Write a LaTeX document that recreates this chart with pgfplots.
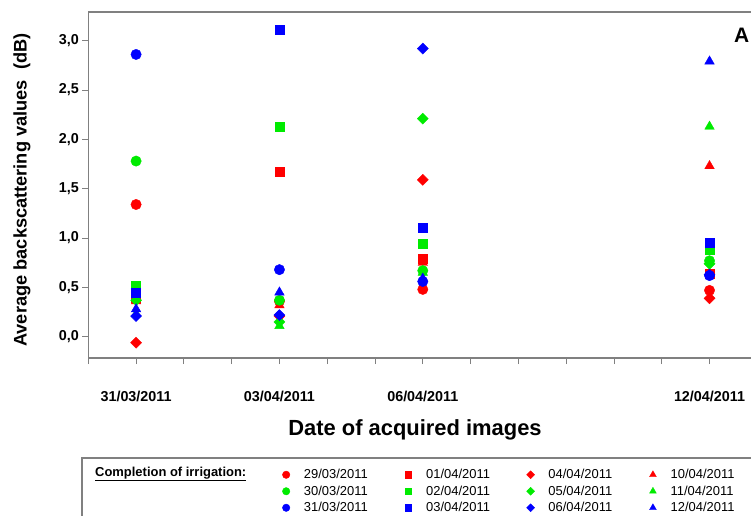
\documentclass[border=0pt]{standalone}
\usepackage{fontspec}
\setmainfont{Liberation Sans}
\usepackage{pgfplots}
\usepackage{pgfplotstable}
\pgfplotsset{compat=1.18}
\definecolor{mred}{RGB}{255,0,0}
\definecolor{mgreen}{RGB}{0,235,0}
\definecolor{mblue}{RGB}{0,0,255}
\definecolor{axgray}{RGB}{128,128,128}

% x: days after 31/03/2011 (0 = 31/03, 3 = 03/04, 6 = 06/04, 12 = 12/04)
\pgfplotstableread{
x   rc     rs    rd     rt    gc    gs    gd    gt    bc    bs    bd    bt
0   1.34   0.40  -0.06  0.36  1.78  0.52  0.37  0.23  2.86  0.45  0.21  0.28
3   0.36   1.67  0.21   0.32  0.37  2.13  0.15  0.11  0.68  3.11  0.22  0.45
6   0.48   0.79  1.59   0.75  0.67  0.94  2.21  0.65  0.56  1.10  2.92  0.59
12  0.47   0.64  0.39   1.73  0.77  0.88  0.74  2.13  0.62  0.95  0.63  2.79
}\data

\begin{document}
\begin{tikzpicture}
\useasboundingbox (0,0) rectangle (751bp,-516bp);
\begin{axis}[
  scale only axis, width=669bp, height=346bp,
  at={(88.3bp,-358bp)}, anchor=south west,
  xmin=-1, xmax=13, ymin=-0.215, ymax=3.29,
  axis y line=left, axis x line=bottom,
  axis line style={-, axgray, line width=1.1pt},
  xtick={-1,0,...,13},
  xticklabels={,31/03/2011,,,03/04/2011,,,06/04/2011,,,,,,12/04/2011,},
  ytick={0,0.5,...,3},
  tick align=outside, major tick length=6bp,
  tick style={axgray, line width=0.8pt},
  x tick label style={font=\bfseries\fontsize{14.4}{16}\selectfont, yshift=-24bp},
  y tick label style={font=\bfseries\fontsize{14.4}{16}\selectfont},
  yticklabel={\pgfmathprintnumber[fixed, fixed zerofill, precision=1, use comma, assume math mode=true]{\tick}},
  clip=false,
  legend columns=4,
  legend cell align=left,
  legend image code/.code={\draw[#1, every mark/.append style={scale=0.72}] plot coordinates {(0bp,0bp)}; \path (-5bp,0bp) (15bp,0bp);},
  legend style={draw=none, fill=none, inner sep=0pt, outer sep=0pt,
    at={(0.288,-0.3136)}, anchor=north west,
    font=\fontsize{13}{15}\selectfont,
    nodes={inner sep=2.5bp, text height=9.5bp, text depth=2bp},
    /tikz/every even column/.append style={column sep=33bp}},
  every axis plot/.append style={only marks},
  dmd/.style={mark=square*, mark size=3.9bp, mark options={rotate=45}},
]
\draw[axgray, line width=1.1pt] (rel axis cs:0,1) -- (rel axis cs:1,1);
\addplot[mark=*, mark size=5.2bp, color=mred] table[x=x, y=rc] {\data};
\addlegendentry{29/03/2011}
\addplot[mark=square*, mark size=4.5bp, color=mred] table[x=x, y=rs] {\data};
\addlegendentry{01/04/2011}
\addplot[dmd, color=mred] table[x=x, y=rd] {\data};
\addlegendentry{04/04/2011}
\addplot[mark=triangle*, mark size=5.5bp, color=mred] table[x=x, y=rt] {\data};
\addlegendentry{10/04/2011}
\addplot[mark=*, mark size=5.2bp, color=mgreen] table[x=x, y=gc] {\data};
\addlegendentry{30/03/2011}
\addplot[mark=square*, mark size=4.5bp, color=mgreen] table[x=x, y=gs] {\data};
\addlegendentry{02/04/2011}
\addplot[dmd, color=mgreen] table[x=x, y=gd] {\data};
\addlegendentry{05/04/2011}
\addplot[mark=triangle*, mark size=5.5bp, color=mgreen] table[x=x, y=gt] {\data};
\addlegendentry{11/04/2011}
\addplot[mark=*, mark size=5.2bp, color=mblue] table[x=x, y=bc] {\data};
\addlegendentry{31/03/2011}
\addplot[mark=square*, mark size=4.5bp, color=mblue] table[x=x, y=bs] {\data};
\addlegendentry{03/04/2011}
\addplot[dmd, color=mblue] table[x=x, y=bd] {\data};
\addlegendentry{06/04/2011}
\addplot[mark=triangle*, mark size=5.5bp, color=mblue] table[x=x, y=bt] {\data};
\addlegendentry{12/04/2011}
\end{axis}
\node[rotate=90, font=\bfseries\fontsize{18.3}{20}\selectfont] at (22bp,-190bp) {Average backscattering values\ \ (dB)};
\node[font=\bfseries\fontsize{22}{26}\selectfont] at (415bp,-430bp) {Date of acquired images};
\node[font=\bfseries\fontsize{21}{24}\selectfont, anchor=base west, inner sep=0pt] at (734bp,-42bp) {A};
\node[font=\bfseries\fontsize{13}{15}\selectfont, anchor=west, inner sep=0pt] at (95bp,-474bp) {\underline{Completion of irrigation:}};
\draw[axgray, line width=1.5pt] (770bp,-458bp) -- (82bp,-458bp) -- (82bp,-530bp);
\end{tikzpicture}
\end{document}
